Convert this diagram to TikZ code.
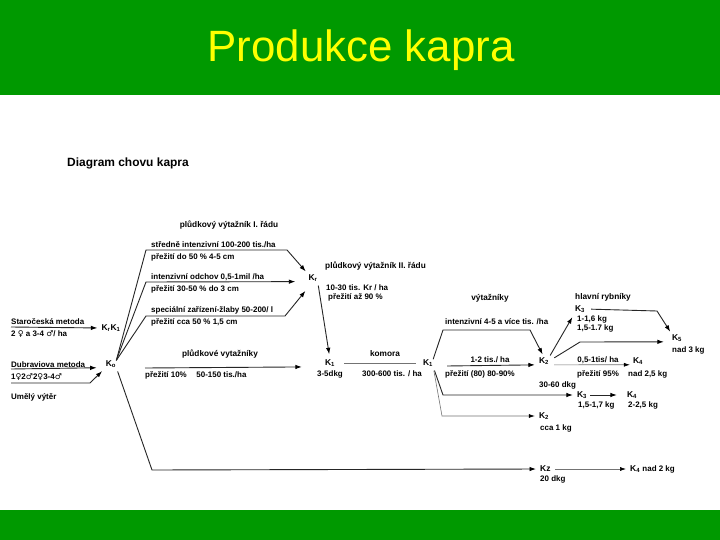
\documentclass[tikz,border=0pt]{standalone}
\usepackage{fontspec}
\setmainfont{Liberation Sans}
\newfontfamily\symfont{DejaVu Sans}
\usetikzlibrary{arrows.meta}
\definecolor{band}{RGB}{0,153,0}
\definecolor{ttl}{RGB}{255,255,0}
\newcommand{\femsym}{{\symfont\char"2640}}
\newcommand{\malsym}{{\symfont\char"2642}}
\begin{document}
\begin{tikzpicture}[x=1bp,y=-1bp,
  every node/.style={inner sep=0pt},
  dt/.style={anchor=west, font=\fontsize{8}{9}\selectfont\bfseries},
  dc/.style={font=\fontsize{8}{9}\selectfont\bfseries},
  hd/.style={font=\fontsize{8.3}{10}\selectfont\bfseries},
  kk/.style={font=\fontsize{8.5}{10}\selectfont\bfseries},
  ln/.style={line width=0.9bp, draw=black!85},
  ar/.style={ln, -{Latex[length=6.5bp,width=4.5bp,color=black]}},
  lt/.style={line width=0.6bp, draw=black!55},
  al/.style={lt, -{Latex[length=6bp,width=4bp,color=black]}}
]
\useasboundingbox (0,0) rectangle (720,540);
\fill[white] (0,0) rectangle (720,540);
\fill[band] (0,0) rectangle (720,95);
\fill[band] (0,510) rectangle (720,540);
\node[anchor=base, text=ttl, font=\fontsize{44}{50}\selectfont] (title) at (361,62) {Produkce kapra};
\node[anchor=west, font=\fontsize{12}{14}\selectfont\bfseries] (dg) at (67,163) {Diagram chovu kapra};

% left
\node[dt] (st) at (11,322) {Staročeská metoda};
\node[dt] (st2) at (11,334) {2 \femsym\ a 3-4 \malsym/ ha};
\node[kk] (krk) at (111,328) {K\textsubscript{r}K\textsubscript{1}};
\coordinate (sU) at (11,327);
\draw[ar, shorten >=4bp] (sU) -- (krk.west);

\node[dt] (du) at (11,365) {Dubraviova metoda};
\node[dt] (du2) at (11,377) {1\femsym2\malsym2\femsym3-4\malsym};
\node[kk] (ko) at (111,364) {K\textsubscript{o}};
\coordinate (dU) at (11,369);
\draw[ar, shorten >=9bp] (dU) -- (ko.south west);

\node[dt] (um) at (11,397) {Umělý výtěr};
\coordinate (uA) at (11,383);
\coordinate (uB) at (90,383);
\draw[ar, shorten >=5bp] (uA) -- (uB) -- (ko.south west);

% group 1
\node[kk] (kr) at (313,278) {K\textsubscript{r}};
\coordinate (c1a) at (146,250);
\coordinate (c1b) at (287,250);
\coordinate (c2a) at (146,282);
\coordinate (c3a) at (146,316);
\coordinate (c3b) at (285,316);
\draw[ar, shorten >=4bp] (ko.north east) -- (c1a) -- (c1b) -- (kr.north west);
\draw[ar, shorten >=13bp] (ko.north east) -- (c2a) -- (kr.south west);
\draw[ar, shorten >=12bp] (ko.north east) -- (c3a) -- (c3b) -- (kr.south);

\node[hd] (h1) at (229,225) {plůdkový výtažník I. řádu};
\node[dt] (t1a) at (151,245) {středně intenzivní 100-200 tis./ha};
\node[dt] (t1b) at (151,257) {přežití do 50 \% 4-5 cm};
\node[dt] (t2a) at (151,277) {intenzivní odchov 0,5-1mil /ha};
\node[dt] (t2b) at (151,289) {přežití 30-50 \% do 3 cm};
\node[dt] (t3a) at (151,310) {speciální zařízení-žlaby 50-200/ l};
\node[dt] (t3b) at (151,322) {přežití cca 50 \% 1,5 cm};

% group 2
\node[hd, anchor=west] (h2) at (325,266) {plůdkový výtažník II. řádu};
\node[dt] (u1) at (326,288) {10-30 tis. Kr / ha};
\node[dt] (u2) at (328,297) {přežití až 90 \%};

\node[kk] (k1a) at (330,363) {K\textsubscript{1}};
\draw[ar, shorten <=4bp, shorten >=5bp] (kr.south east) -- (k1a.north);

\node[hd] (h3) at (220,354) {plůdkové vytažníky};
\coordinate (pv) at (145,368);
\draw[ar, shorten >=23bp] (pv) -- (k1a.south west);
\node[dt] (pv2) at (145,375) {přežití 10\%\hspace{1.2em}50-150 tis./ha};

\node[dc] (d35) at (330,374) {3-5dkg};
\node[hd] (kom) at (385,354) {komora};
\node[kk] (k1b) at (428,363) {K\textsubscript{1}};
\draw[lt, shorten <=9bp, shorten >=7bp] (k1a.east) -- (k1b.west);
\node[dc] (d300) at (392,374) {300-600 tis. / ha};

% from K1
\node[kk] (k2) at (544,361) {K\textsubscript{2}};
\coordinate (v1) at (443,330);
\coordinate (v2) at (530,330);
\draw[ar, shorten >=3bp] (k1b.north east) -- (v1) -- (v2) -- (k2.north);
\node[hd] (h4) at (490,298) {výtažníky};
\node[dt] (w1) at (445,322) {intenzivní 4-5 a více tis. /ha};
\coordinate (a12) at (447,366);
\draw[ar, shorten >=4bp] (a12) -- (k2.south west);
\node[dc] (w2) at (490,360) {1-2 tis./ ha};
\node[dt] (w3) at (445,374) {přežití (80) 80-90\%};

\node[kk] (k3b) at (582,395) {K\textsubscript{3}};
\node[kk] (k2b) at (544,416) {K\textsubscript{2}};
\coordinate (b1) at (443,395);
\coordinate (b2) at (442,416);
\draw[ar, shorten <=4bp, shorten >=4bp] (k1b.south east) -- (b1) -- (k3b.west);
\draw[al, shorten <=4bp, shorten >=4bp] (k1b.south east) -- (b2) -- (k2b.west);
\node[dt] (x1) at (539,385) {30-60 dkg};
\node[dt] (x2) at (540,428) {cca 1 kg};
\node[kk] (k4b) at (632,395) {K\textsubscript{4}};
\draw[ar, shorten <=3bp, shorten >=10bp] (k3b.east) -- (k4b.west);
\node[dt] (x3) at (578,405) {1,5-1,7 kg};
\node[dt] (x4) at (628,405) {2-2,5 kg};

% from K2
\node[kk] (k3a) at (580,309) {K\textsubscript{3}};
\draw[ar, shorten <=2bp, shorten >=5bp] (k2.north east) -- (k3a.south west);
\node[hd] (h5) at (603,297) {hlavní rybníky};
\node[dt] (y1) at (577,319) {1-1,6 kg};
\node[dt] (y2) at (577,328) {1,5-1.7 kg};
\node[kk] (k5) at (677,338) {K\textsubscript{5}};
\coordinate (z1) at (657,311);
\draw[ar, shorten <=6bp, shorten >=3bp] (k3a.east) -- (z1) -- (k5.north west);
\coordinate (z2) at (580,342);
\draw[ar, shorten <=6bp, shorten >=8bp] (k2.east) -- (z2) -- (k5.south west);
\node[dt] (y3) at (672,350) {nad 3 kg};

\node[kk] (k4a) at (638,361) {K\textsubscript{4}};
\draw[al, shorten <=5bp, shorten >=3bp] (k2.south east) -- (k4a.south west);
\node[dc] (y4) at (598,360) {0,5-1tis/ ha};
\node[dt] (y5) at (577,374) {přežití 95\%};
\node[dt] (y6) at (628,374) {nad 2,5 kg};

% bottom
\coordinate (bz) at (152,470);
\node[kk, anchor=west] (kz) at (540,469) {Kz};
\draw[ar, shorten <=4bp, shorten >=4bp] (ko.south east) -- (bz) -- (kz.west);
\node[dt] (z20) at (540,479) {20 dkg};
\node[kk, anchor=west] (k4c) at (630,469) {K\textsubscript{4} {\fontsize{8}{9}\selectfont nad 2 kg}};
\draw[al, shorten <=4bp, shorten >=4bp] (kz.east) -- (k4c.west);
\end{tikzpicture}
\end{document}
